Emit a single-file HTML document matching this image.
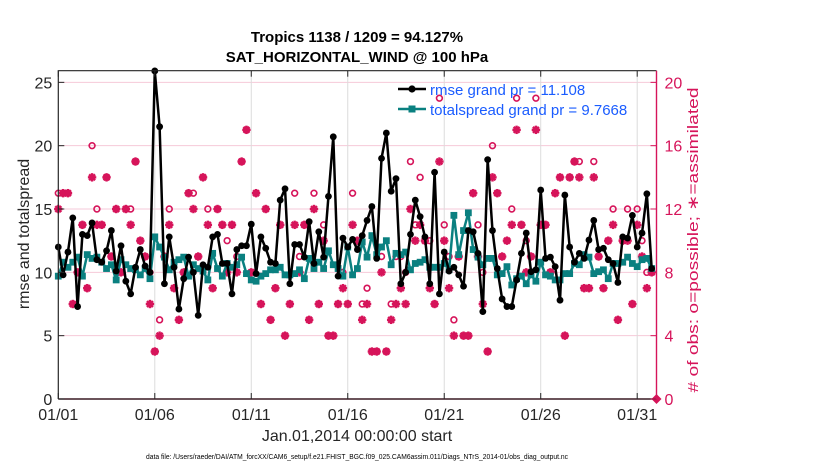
<!DOCTYPE html>
<html><head><meta charset="utf-8"><style>
html,body{margin:0;padding:0;background:#fff;}
svg{display:block;font-family:"Liberation Sans",Arial,sans-serif;}
</style></head><body>
<svg id="chart" width="830" height="470" viewBox="0 0 830 470" xmlns="http://www.w3.org/2000/svg">
<rect x="0" y="0" width="830" height="470" fill="#fff"/>
<g id="grid"></g>
<g id="marks"></g>
<g id="axes"></g>
<text x="357" y="42" text-anchor="middle" font-size="15" font-weight="bold" fill="#000">Tropics 1138 / 1209 = 94.127%</text>
<text x="357" y="62" text-anchor="middle" font-size="15" font-weight="bold" fill="#000">SAT_HORIZONTAL_WIND @ 100 hPa</text>
<text transform="translate(29,234) rotate(-90)" text-anchor="middle" font-size="16" fill="#262626">rmse and totalspread</text>
<text transform="translate(698,240) rotate(-90)" text-anchor="middle" font-size="15" textLength="305" lengthAdjust="spacingAndGlyphs" fill="#d6145a"># of obs: o=possible; ∗=assimilated</text>
<text x="357" y="441" text-anchor="middle" font-size="16" fill="#262626">Jan.01,2014 00:00:00 start</text>
<text x="146" y="459" font-size="7" textLength="422" lengthAdjust="spacingAndGlyphs" fill="#000">data file: /Users/raeder/DAI/ATM_forcXX/CAM6_setup/f.e21.FHIST_BGC.f09_025.CAM6assim.011/Diags_NTrS_2014-01/obs_diag_output.nc</text>
<g>
  <line x1="398" y1="89" x2="426" y2="89" stroke="#000" stroke-width="2.5"/>
  <circle cx="412" cy="89" r="3.6" fill="#000"/>
  <text x="430" y="95" font-size="15" fill="#1a5cff">rmse grand pr = 11.108</text>
  <line x1="398" y1="109" x2="426" y2="109" stroke="#0a8080" stroke-width="2.5"/>
  <rect x="408.5" y="105.5" width="7" height="7" fill="#0a8080"/>
  <text x="430" y="115" font-size="15" fill="#1a5cff">totalspread grand pr = 9.7668</text>
</g>
</svg>
<script>
const rmse=[12.0,9.8,11.6,14.3,7.3,13.0,12.9,13.9,11.0,10.8,11.7,13.3,10.1,12.1,9.3,8.3,10.4,11.8,10.5,10.0,25.9,21.5,9.1,12.8,10.4,7.1,9.5,11.2,10.0,6.6,10.6,10.4,12.8,13.0,10.7,10.7,8.3,11.8,12.1,12.1,13.8,9.9,12.8,11.9,10.8,10.7,15.7,16.6,9.1,12.2,12.2,11.2,14.0,10.7,13.2,11.2,16.0,20.7,9.7,12.7,12.0,12.6,11.8,12.9,14.1,15.2,11.1,19.0,21.0,16.4,17.4,9.1,10.0,13.0,15.7,14.4,12.8,9.1,17.9,8.3,11.6,10.1,10.4,9.8,8.9,13.3,13.2,11.5,6.9,18.9,13.3,10.3,7.9,7.3,7.3,9.4,11.5,13.1,10.05,10.2,16.5,11.1,11.2,10.45,7.8,16.1,12.0,10.8,11.5,11.1,12.55,14.1,11.8,11.9,11.0,10.7,9.2,12.8,12.7,14.5,12.0,13.1,16.2,10.3];
const spread=[9.7,10.8,10.4,10.8,11.2,9.7,11.4,11.1,11.2,10.8,10.3,10.6,9.4,11.0,10.6,10.3,10.2,9.8,10.3,9.5,12.8,12.0,11.2,10.2,10.8,11.0,11.2,9.7,10.6,10.3,10.1,9.4,11.5,10.3,9.7,10.7,10.4,10.6,11.2,9.9,9.4,9.3,9.7,9.9,10.2,10.2,10.4,9.8,9.8,9.9,10.2,9.5,11.1,10.3,10.8,10.3,11.7,10.6,10.3,9.7,12.0,9.8,10.3,12.4,11.2,12.9,11.4,12.0,12.5,10.6,11.5,11.4,11.6,10.2,10.7,10.8,11.0,10.4,10.4,10.4,10.7,10.2,14.5,11.4,13.3,14.7,11.8,11.2,10.6,11.1,11.1,9.8,9.9,10.45,9.0,9.5,9.7,9.1,9.8,9.3,10.8,9.8,9.7,9.4,9.4,9.9,9.9,10.7,10.6,11.4,11.2,9.9,10.05,10.2,9.5,10.7,10.7,10.8,11.2,10.7,10.45,11.0,11.1,10.3];
const nPossible=[13,13,13,6,8,11,7,16,12,11,14,9,12,8,12,12,15,10,9,8,3,5,9,12,7,5,8,13,13,9,14,12,7,12,11,10,11,9,15,17,8,13,6,12,5,7,11,4,6,13,9,11,5,13,6,11,4,4,6,8,6,13,10,6,7,3,3,9,3,6,9,9,8,15,11,14,10,10,6,19,11,9,5,9,4,4,13,11,8,3,16,13,9,10,12,19,11,10,9,19,11,11,8,13,14,4,14,15,15,7,7,15,9,7,10,12,5,10,12,6,12,10,8,8];
const nAssim=[12,13,13,6,8,11,7,14,11,11,14,9,12,8,12,11,15,10,9,6,3,4,9,11,7,5,8,13,12,9,14,11,7,12,11,8,11,8,15,17,8,13,6,12,5,7,11,4,6,11,8,11,5,12,6,10,4,4,6,7,6,11,10,5,6,3,3,8,3,5,6,7,6,12,10,11,10,7,6,15,10,7,4,9,4,4,13,9,6,3,14,13,9,10,11,17,11,8,9,17,11,11,8,13,14,4,14,15,14,7,7,14,9,7,10,11,5,10,10,6,11,9,7,8];
const xTickLabels=['01/01','01/06','01/11','01/16','01/21','01/26','01/31'];
const xTickDays=[0,5,10,15,20,25,30];
const yLeftTicks=[0,5,10,15,20,25];
const yRightTicks=[0,4,8,12,16,20];
const stepDays=0.25, dayMax=31, yMax=25.92, rScale=0.8;

const L=58.3,R=656.5,T=70.7,B=399;
const xs=d=>L+(d/dayMax)*(R-L);
const yL=v=>B-(v/yMax)*(B-T);
const yR=c=>B-(c/(yMax*rScale))*(B-T);
const NS='http://www.w3.org/2000/svg';
function mk(tag,attrs,parent){const e=document.createElementNS(NS,tag);for(const k in attrs)e.setAttribute(k,attrs[k]);parent.appendChild(e);return e;}
const grid=document.getElementById('grid'),marks=document.getElementById('marks'),axes=document.getElementById('axes');
const PINK='#d6145a';

yLeftTicks.forEach(v=>{if(v===0)return;const g=mk('line',{x1:L,x2:R,y1:yL(v),y2:yL(v),stroke:'#f6c9d8','stroke-width':1},grid);

});
xTickDays.forEach(d=>{if(d===0)return;const g=mk('line',{x1:xs(d),x2:xs(d),y1:T,y2:B,stroke:'#dcdcdc','stroke-width':1},grid);

});

function star(cx,cy){const g=mk('g',{},marks);


const r=4.2;
[[0,1],[1,0],[0.707,0.707],[0.707,-0.707]].forEach(([a,b])=>mk('line',{x1:cx-r*a,y1:cy-r*b,x2:cx+r*a,y2:cy+r*b,stroke:PINK,'stroke-width':2.4},g));
mk('circle',{cx:cx,cy:cy,r:2.4,fill:PINK},g);}
nPossible.forEach((c,i)=>{const x=xs(i*stepDays);
const o=mk('circle',{cx:x,cy:yR(c),r:2.9,fill:'none',stroke:PINK,'stroke-width':1.6},marks);


star(x,yR(nAssim[i]));});

function series(vals,color,square,name){
const pts=vals.map((v,i)=>xs(i*stepDays).toFixed(2)+','+yL(v).toFixed(2)).join(' ');
const pl=mk('polyline',{points:pts,fill:'none',stroke:color,'stroke-width':2.5,'stroke-linejoin':'round'},marks);


vals.forEach((v,i)=>{const x=xs(i*stepDays),y=yL(v);let m;
if(square)m=mk('rect',{x:x-3.4,y:y-3.4,width:6.8,height:6.8,fill:color},marks);
else m=mk('circle',{cx:x,cy:y,r:3.4,fill:color},marks);

});}
series(spread,'#0a8080',true,'totalspread');
series(rmse,'#000',false,'rmse');

const zm=mk('path',{d:`M${R-5},${B} L${R},${B-5} L${R+5},${B} L${R},${B+5}Z`,fill:PINK},marks);



const fr=mk('path',{d:`M${L},${B} L${L},${T} L${R},${T}`,fill:'none',stroke:'#262626','stroke-width':1.2},axes);


const xa=mk('line',{x1:L,x2:R,y1:B,y2:B,stroke:'#3a1a24','stroke-width':1.4},axes);


const ra=mk('line',{x1:R,x2:R,y1:T,y2:B,stroke:PINK,'stroke-width':1.4},axes);



xTickDays.forEach((d,i)=>{const x=xs(d);
mk('line',{x1:x,x2:x,y1:B,y2:B-6,stroke:'#262626'},axes);
mk('line',{x1:x,x2:x,y1:T,y2:T+6,stroke:'#262626'},axes);
const t=mk('text',{x:x,y:420,'text-anchor':'middle','font-size':16,fill:'#262626'},axes);t.textContent=xTickLabels[i];

});
yLeftTicks.forEach(v=>{const y=yL(v);
mk('line',{x1:L,x2:L+6,y1:y,y2:y,stroke:'#262626'},axes);
const t=mk('text',{x:L-6,y:y+6,'text-anchor':'end','font-size':16,fill:'#262626'},axes);t.textContent=v;

});
yRightTicks.forEach(c=>{const y=yR(c);
mk('line',{x1:R,x2:R-6,y1:y,y2:y,stroke:PINK},axes);
const t=mk('text',{x:R+8,y:y+6,'font-size':16,fill:PINK},axes);t.textContent=c;

});
</script>
</body></html>
